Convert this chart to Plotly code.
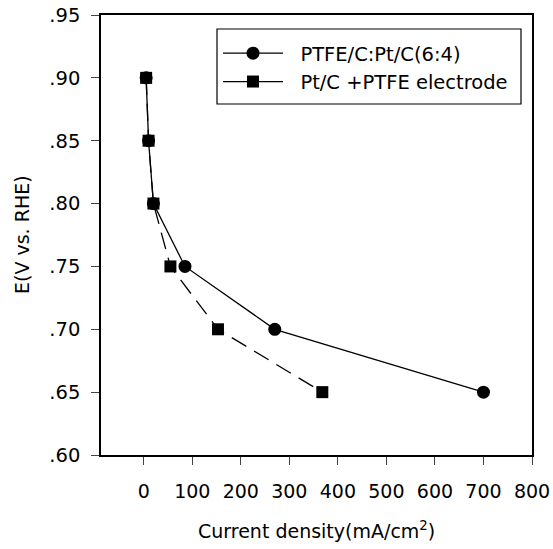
import plotly.graph_objects as go

# Data
potential = [0.90, 0.85, 0.80, 0.75, 0.70, 0.65]
current_ptfe_c = [5, 10, 20, 85, 270, 700]
current_ptc_ptfe = [5, 10, 20, 55, 153, 368]
names = ["PTFE/C:Pt/C(6:4)", "Pt/C +PTFE electrode"]
x_ticks = [0, 100, 200, 300, 400, 500, 600, 700, 800]
y_ticks = [0.60, 0.65, 0.70, 0.75, 0.80, 0.85, 0.90, 0.95]
y_ticktext = [".60", ".65", ".70", ".75", ".80", ".85", ".90", ".95"]

font_family = "DejaVu Sans, Liberation Sans, Arial, sans-serif"
FS = 19
PAD = "\u00a0\u00a0"  # gap between legend symbol and text

W, H = 553, 549
L, R, T, B = 101, 21, 15, 94
pw, ph = W - L - R, H - T - B


def px_x(x):  # window pixel -> paper coordinate
    return (x - L) / pw


def px_y(y):
    return (H - B - y) / ph


fig = go.Figure()
fig.add_trace(go.Scatter(
    x=current_ptfe_c, y=potential, name=PAD + names[0], mode="lines+markers",
    line=dict(color="black", width=1.3),
    marker=dict(symbol="circle", size=13, color="black"),
))
fig.add_trace(go.Scatter(
    x=current_ptc_ptfe, y=potential, name=PAD + names[1], mode="lines+markers",
    line=dict(color="black", width=1.3, dash="17px,9px"),
    marker=dict(symbol="square", size=12, color="black"),
    showlegend=False,
))
# legend entry (solid line as in the original legend)
fig.add_trace(go.Scatter(
    x=[None], y=[None], name=PAD + names[1], mode="lines+markers",
    line=dict(color="black", width=1.3),
    marker=dict(symbol="square", size=12, color="black"),
))

fig.update_layout(
    width=W, height=H,
    margin=dict(l=L, r=R, t=T, b=B, autoexpand=False),
    paper_bgcolor="white", plot_bgcolor="white",
    font=dict(family=font_family, size=FS, color="black"),
    showlegend=True,
    legend=dict(
        x=px_x(218), y=px_y(34), xanchor="left", yanchor="top",
        borderwidth=0, bgcolor="rgba(0,0,0,0)",
        font=dict(size=19.5), tracegroupgap=0, itemwidth=60,
    ),
    shapes=[dict(
        type="rect", xref="paper", yref="paper",
        x0=px_x(217), x1=px_x(521), y0=px_y(104), y1=px_y(29),
        line=dict(color="black", width=1.2), fillcolor="rgba(0,0,0,0)", layer="below",
    )],
    annotations=[
        dict(text="Current density(mA/cm<sup>2</sup>)", xref="paper", yref="paper",
             x=0.5, y=px_y(530), xanchor="center", yanchor="middle",
             showarrow=False, font=dict(size=FS)),
        dict(text="E(V vs. RHE)", xref="paper", yref="paper", textangle=-90,
             x=px_x(22), y=0.5, xanchor="center", yanchor="middle",
             showarrow=False, font=dict(size=FS)),
    ],
)
fig.update_xaxes(
    range=[-88, 800], tickvals=x_ticks, ticks="outside", ticklen=8, tickwidth=1.3,
    showline=True, linecolor="black", linewidth=1.5, mirror=True, showgrid=False,
    zeroline=False, automargin=False, ticklabelstandoff=10, ticklabeloverflow="allow",
    tickfont=dict(size=FS),
)
fig.update_yaxes(
    range=[0.60, 0.95], tickvals=y_ticks, ticktext=y_ticktext, ticks="outside", ticklen=8,
    tickwidth=1.3, showline=True, linecolor="black", linewidth=1.5, mirror=True,
    showgrid=False, zeroline=False, automargin=False, ticklabelstandoff=7,
    ticklabeloverflow="allow", tickfont=dict(size=19.5),
)

fig.write_html(
    "out.html",
    config={"displayModeBar": False},
    post_script="document.body.style.margin='0';document.body.style.overflow='hidden';",
)
